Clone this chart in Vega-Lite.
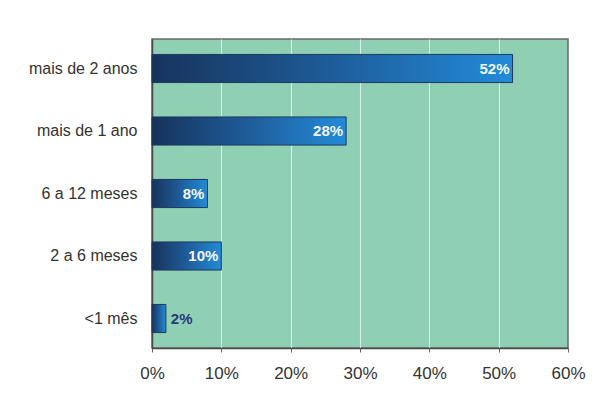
{
  "$schema": "https://vega.github.io/schema/vega-lite/v6.json",
  "width": 416,
  "height": 309,
  "autosize": {"type": "none"},
  "padding": {"left": 152, "top": 39, "right": 33, "bottom": 71},
  "background": "#ffffff",
  "config": {
    "font": "Liberation Sans",
    "view": {"fill": "#8fcfb3", "stroke": "#6a6a6a", "strokeWidth": 1.5}
  },
  "view": {"fill": "#8fcfb3", "stroke": "#6a6a6a", "strokeWidth": 1.5},
  "data": {
    "values": [
      {"periodo": "mais de 2 anos", "pct": 0.52},
      {"periodo": "mais de 1 ano", "pct": 0.28},
      {"periodo": "6 a 12 meses", "pct": 0.08},
      {"periodo": "2 a 6 meses", "pct": 0.10},
      {"periodo": "<1 mês", "pct": 0.02}
    ]
  },
  "encoding": {
    "y": {
      "field": "periodo",
      "type": "nominal",
      "sort": null,
      "title": null,
      "scale": {"paddingInner": 0.55, "paddingOuter": 0.247},
      "axis": {
        "domain": true,
        "domainColor": "#4a4a4a",
        "domainWidth": 1.5,
        "ticks": false,
        "labelPadding": 15,
        "labelFontSize": 16,
        "labelColor": "#333333",
        "labelFont": "Liberation Sans"
      }
    },
    "x": {
      "field": "pct",
      "type": "quantitative",
      "title": null,
      "scale": {"domain": [0, 0.6], "nice": false},
      "axis": {
        "values": [0, 0.1, 0.2, 0.3, 0.4, 0.5, 0.6],
        "format": ".0%",
        "labelFlush": false,
        "domain": true,
        "domainColor": "#4a4a4a",
        "domainWidth": 1.5,
        "tickSize": 4,
        "tickColor": "#666666",
        "labelPadding": 13,
        "labelFontSize": 17,
        "labelColor": "#333333",
        "labelFont": "Liberation Sans",
        "grid": true,
        "gridColor": {
          "condition": {"test": "datum.value <= 0 || datum.value >= 0.6", "value": "transparent"},
          "value": "#d6eee4"
        },
        "gridWidth": 1.1
      }
    }
  },
  "layer": [
    {
      "mark": {
        "type": "bar",
        "stroke": "#1c3a60",
        "strokeWidth": 1,
        "color": {
          "gradient": "linear",
          "x1": 0, "y1": 0, "x2": 1, "y2": 0,
          "stops": [
            {"offset": 0, "color": "#17335c"},
            {"offset": 0.45, "color": "#1d5893"},
            {"offset": 1, "color": "#238bd8"}
          ]
        }
      }
    },
    {
      "transform": [{"filter": "datum.pct > 0.05"}],
      "mark": {
        "type": "text",
        "align": "right",
        "baseline": "middle",
        "dx": -3,
        "fontWeight": "bold",
        "fontSize": 15,
        "color": "#f2f6fb"
      },
      "encoding": {"text": {"field": "pct", "format": ".0%"}}
    },
    {
      "transform": [{"filter": "datum.pct <= 0.05"}],
      "mark": {
        "type": "text",
        "align": "left",
        "baseline": "middle",
        "dx": 5,
        "fontWeight": "bold",
        "fontSize": 15,
        "color": "#2b3a78"
      },
      "encoding": {"text": {"field": "pct", "format": ".0%"}}
    }
  ]
}
